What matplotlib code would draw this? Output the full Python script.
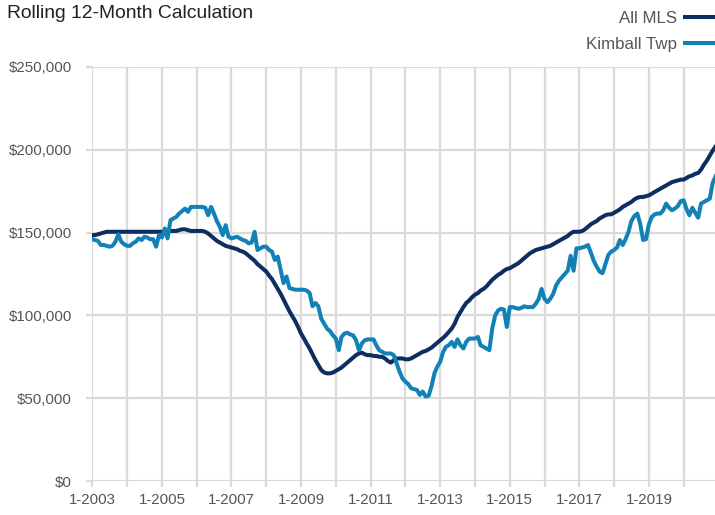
import matplotlib
matplotlib.use("Agg")
import matplotlib.pyplot as plt
import matplotlib.dates as mdates
from matplotlib.lines import Line2D
import pandas as pd
import numpy as np

FONT = ['Liberation Sans', 'DejaVu Sans']
plt.rcParams['font.family'] = FONT

# Monthly values (thousands of $), Jan 2003 .. Dec 2020
all_mls = [
    148.5, 148.5, 149, 149.5, 150, 150.5, 150.5, 150.5, 150.5, 150.5, 150.5, 150.5,   # 2003
    150.5, 150.5, 150.5, 150.5, 150.5, 150.5, 150.5, 150.5, 150.5, 150.5, 150.5, 150.5,  # 2004
    150.5, 150.5, 150.5, 151, 151, 151, 151.5, 152, 152, 151.5, 151, 151,   # 2005
    151, 151, 151, 150.5, 149.5, 148, 146.5, 145, 144, 143, 142, 141.5,     # 2006
    141, 140.5, 140, 139, 138.5, 137.5, 136, 134.5, 133, 131, 129.5, 128,   # 2007
    126.5, 124, 122, 119, 116, 113, 109.5, 106, 102.5, 99.5, 96.5, 93,      # 2008
    89, 86, 83, 80, 76.5, 73, 70, 67, 65.5, 65, 65, 65.5,                   # 2009
    66.5, 67.5, 68.5, 70, 71.5, 73, 74.5, 76, 77, 77.5, 76.5, 76,           # 2010
    76, 75.5, 75.5, 75, 75, 74, 72.5, 71.5, 73, 74, 74, 74,                 # 2011
    73.5, 73.5, 74, 75, 76, 77, 78, 78.5, 79.5, 80.5, 82, 83.5,             # 2012
    85, 86.5, 88, 90, 92, 95, 99, 102, 105, 107.5, 109, 111,                # 2013
    112.5, 113.5, 115, 116, 117.5, 119.5, 121.5, 123, 124.5, 125.5, 127, 128,  # 2014
    128.5, 129.5, 130.5, 131.5, 133, 134.5, 136, 137.5, 138.5, 139.5, 140, 140.5,  # 2015
    141, 141.5, 142, 143, 144, 145, 146, 147, 148, 149.5, 150.5, 150.5,     # 2016
    150.5, 151, 152, 153.5, 155, 156, 157, 158.5, 159.5, 160.5, 161, 161,   # 2017
    162, 163, 164, 165.5, 166.5, 167.5, 168.5, 170, 171, 171.5, 171.5, 172, # 2018
    172.5, 173.5, 174.5, 175.5, 176.5, 177.5, 178.5, 179.5, 180.5, 181, 181.5, 182,  # 2019
    182, 183, 184, 184.5, 185.5, 186, 188, 191, 193.5, 196.5, 199.5, 202,   # 2020
]

kimball = [
    146, 145.5, 145, 142.5, 142.5, 142, 141.5, 142, 144.5, 149, 144.5, 143,  # 2003
    142, 142, 143.5, 144.5, 146.5, 145.5, 147.5, 147, 146, 146, 141.5, 148.5,  # 2004
    147, 152.5, 146.5, 157.5, 158.5, 159.5, 161.5, 163, 164.5, 162.5, 165.5, 165.5,  # 2005
    165.5, 165.5, 165.5, 165, 160.5, 165.5, 161.5, 157, 153.5, 148.5, 154.5, 147.5,  # 2006
    146.5, 147, 147.5, 146.5, 145.5, 145, 143.5, 144, 150.5, 139.5, 140.5, 141.5,  # 2007
    141.5, 139.5, 138.5, 133.5, 135.5, 127.5, 119.5, 123.5, 116.5, 116, 115.5, 115.5,  # 2008
    115.5, 115.5, 115, 113.5, 105.5, 107.5, 105.5, 98, 95, 92, 90.5, 88,   # 2009
    86, 79, 87, 89, 89.5, 88.5, 88, 85, 79, 83, 85, 85.5,                  # 2010
    85.5, 85.5, 82, 79, 78, 77, 77, 77, 76, 71, 66, 62,                    # 2011
    60, 58.5, 56, 55.5, 55, 52, 54, 51, 51.5, 57, 65, 69,                  # 2012
    72, 78, 81, 82, 84, 81, 85.5, 82, 80, 84, 86, 86,                      # 2013
    86, 87, 82, 81, 80, 79, 92, 100, 103, 104, 103.5, 93,                  # 2014
    105, 105, 104.5, 104, 104.5, 105.5, 105, 105, 105, 107, 110, 116,      # 2015
    110, 108, 110, 113, 118, 121, 123, 125, 127, 136, 127, 140.5,          # 2016
    140.5, 141, 141.5, 142.5, 138, 133, 129.5, 126.5, 125.5, 131, 136.5, 138.5,  # 2017
    139.5, 141, 145.5, 142.5, 146, 150.5, 157, 160, 161.5, 155.5, 145.5, 146,    # 2018
    155, 159.5, 161, 161.5, 161.5, 163.5, 167.5, 165, 163.5, 164.5, 166, 169,    # 2019
    169.5, 164, 160.5, 165, 162, 159, 167.5, 168.5, 169.5, 170.5, 180, 184,      # 2020
]

series_names = ["All MLS", "Kimball Twp"]
series_colors = ["#0c2e60", "#1282b6"]
y_ticks = [0, 50000, 100000, 150000, 200000, 250000]
y_tick_labels = ["$0", "$50,000", "$100,000", "$150,000", "$200,000", "$250,000"]
title = "Rolling 12-Month Calculation"

dates = pd.date_range("2003-01-01", periods=len(all_mls), freq="MS")
mls_vals = np.array(all_mls) * 1000
kim_vals = np.array(kimball) * 1000

W, H = 715, 515
fig = plt.figure(figsize=(W / 100, H / 100), dpi=100)
ax = fig.add_axes([92.3 / W, 1 - 481 / H, 1 - 92.3 / W, (481 - 67) / H])

grid_c = "#dadada"
ax.plot(dates, mls_vals, color=series_colors[0], lw=2.9, solid_joinstyle="round", zorder=3)
ax.plot(dates, kim_vals, color=series_colors[1], lw=2.9, solid_joinstyle="round", zorder=3)

ax.set_ylim(0, 250000)
ax.set_xlim(pd.Timestamp("2003-01-01"), pd.Timestamp("2020-11-25"))
ax.set_yticks(y_ticks)
ax.set_yticklabels(y_tick_labels)

ax.xaxis.set_major_locator(mdates.YearLocator(1))
def fmt(x, pos=None):
    d = mdates.num2date(x)
    return f"1-{d.year}" if d.year % 2 == 1 else ""
ax.xaxis.set_major_formatter(plt.FuncFormatter(fmt))

ax.grid(True, color=grid_c, lw=1.6, zorder=0)
for s in ax.spines.values():
    s.set_visible(False)
ax.tick_params(axis="both", which="major", color=grid_c, width=1.6, length=4.5,
               labelcolor="#555555", labelsize=10.8)
ax.tick_params(axis="y", pad=10)
ax.tick_params(axis="x", pad=4)
ax.set_axisbelow(True)

fig.text(7 / W, 1 - 13 / H, title, fontsize=13.9, color="#222222", va="center", ha="left")

handles = [Line2D([], [], color=c, lw=2.9) for c in series_colors]
leg = fig.legend(handles, series_names, loc="upper right", bbox_to_anchor=(1.006, 1 - 11 / H),
                 frameon=False, markerfirst=False, fontsize=12.2, handlelength=2.0,
                 handletextpad=0.5, labelspacing=0.62, borderpad=0, borderaxespad=0)
for t in leg.get_texts():
    t.set_color("#555555")

fig.savefig("out.png", dpi=100)
